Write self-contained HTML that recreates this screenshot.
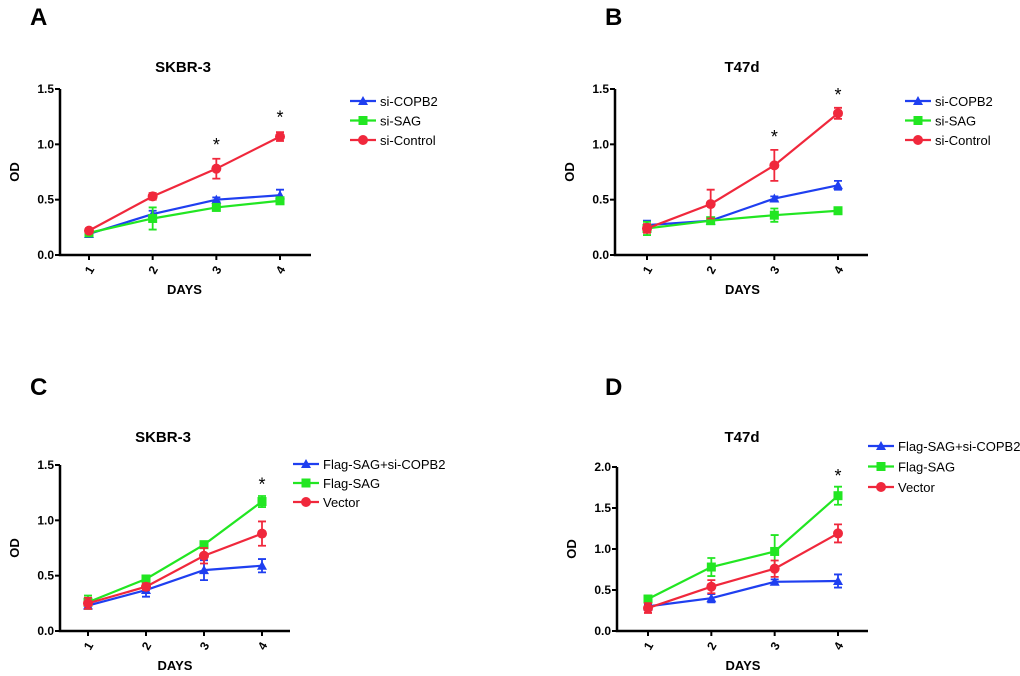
<!DOCTYPE html>
<html><head><meta charset="utf-8"><style>
html,body{margin:0;padding:0;background:#fff;}
svg{display:block;font-family:"Liberation Sans",Arial,sans-serif;}
</style></head><body>
<svg id="fig" width="1020" height="676"></svg>
<script>
const days = [1, 2, 3, 4];
const aCopb2 = [0.19, 0.37, 0.50, 0.54], aCopb2Err = [0.02, 0.03, 0.02, 0.05];
const aSag = [0.20, 0.33, 0.43, 0.49], aSagErr = [0.02, 0.10, 0.03, 0.02];
const aCtrl = [0.22, 0.53, 0.78, 1.07], aCtrlErr = [0.02, 0.03, 0.09, 0.04];
const bCopb2 = [0.27, 0.31, 0.51, 0.63], bCopb2Err = [0.04, 0.02, 0.02, 0.04];
const bSag = [0.24, 0.31, 0.36, 0.40], bSagErr = [0.06, 0.02, 0.06, 0.02];
const bCtrl = [0.24, 0.46, 0.81, 1.28], bCtrlErr = [0.04, 0.13, 0.14, 0.05];
const cCopb2 = [0.23, 0.37, 0.55, 0.59], cCopb2Err = [0.03, 0.06, 0.09, 0.06];
const cSag = [0.26, 0.47, 0.78, 1.17], cSagErr = [0.06, 0.02, 0.02, 0.05];
const cVec = [0.25, 0.40, 0.68, 0.88], cVecErr = [0.05, 0.03, 0.07, 0.11];
const dCopb2 = [0.30, 0.40, 0.60, 0.61], dCopb2Err = [0.02, 0.05, 0.03, 0.08];
const dSag = [0.39, 0.78, 0.97, 1.65], dSagErr = [0.04, 0.11, 0.20, 0.11];
const dVec = [0.28, 0.54, 0.76, 1.19], dVecErr = [0.06, 0.08, 0.10, 0.11];
const ticks15 = [0, 0.5, 1.0, 1.5];
const ticks20 = [0, 0.5, 1.0, 1.5, 2.0];
const legendA = ["si-COPB2", "si-SAG", "si-Control"];
const legendC = ["Flag-SAG+si-COPB2", "Flag-SAG", "Vector"];

const NS = "http://www.w3.org/2000/svg";
const svg = document.getElementById("fig");
const BLUE = "#1f3ff0", GREEN = "#22e622", RED = "#f0283c";
function mk(tag, attrs, parent) {
  const e = document.createElementNS(NS, tag);
  for (const k in attrs) e.setAttribute(k, attrs[k]);
  (parent || svg).appendChild(e);
  return e;
}
function txt(s, attrs, parent) { const t = mk("text", attrs, parent); t.textContent = s; return t; }

function marker(g, shape, x, y, col) {
  let m;
  if (shape === "tri") m = mk("polygon", {points: `${x},${y-5} ${x-5},${y+4} ${x+5},${y+4}`, fill: col}, g);
  else if (shape === "sq") m = mk("rect", {x: x-4.5, y: y-4.5, width: 9, height: 9, fill: col}, g);
  else m = mk("circle", {cx: x, cy: y, r: 5, fill: col}, g);
  return m;
}

function panel(p) {
  const g = mk("g", {});
  
  
  const yMax = p.ticks[p.ticks.length - 1];
  const ys = v => p.y0 - (v / yMax) * (p.y0 - p.yTop);
  const xs = d => p.x1 + (d - 1) * (p.x4 - p.x1) / 3;
  const L = txt(p.letter, {x: p.lx, y: p.ly, "font-size": 24, "font-weight": "bold"}, g);
  
  
  const T = txt(p.title, {x: p.tx, y: p.ty, "font-size": 15, "font-weight": "bold", "text-anchor": "middle"}, g);
  
  
  const ax = mk("path", {d: `M${p.ax},${p.yTop} V${p.y0} H${p.xEnd}`, stroke: "#000", "stroke-width": 2.5, fill: "none"}, g);
  
  
  p.ticks.forEach(t => {
    mk("line", {x1: p.ax-5, x2: p.ax, y1: ys(t), y2: ys(t), stroke: "#000", "stroke-width": 2}, g);
    const tl = txt(t.toFixed(1), {x: p.ax-6, y: ys(t)+4, "font-size": 12, "font-weight": "bold", "text-anchor": "end"}, g);
    
    
  });
  days.forEach(d => {
    mk("line", {x1: xs(d), x2: xs(d), y1: p.y0, y2: p.y0+5, stroke: "#000", "stroke-width": 2}, g);
    const tl = txt(String(d), {x: 0, y: 0, "font-size": 12, "font-weight": "bold", "text-anchor": "middle",
      transform: `translate(${xs(d)+4},${p.y0+17}) rotate(-60)`}, g);
    
    
  });
  const xt = txt("DAYS", {x: (p.x1+p.x4)/2, y: p.y0+39, "font-size": 13, "font-weight": "bold", "text-anchor": "middle"}, g);
  
  
  const yt = txt("OD", {x: 0, y: 0, "font-size": 13, "font-weight": "bold", "text-anchor": "middle",
    transform: `translate(${p.ax-41},${(p.y0+p.yTop)/2}) rotate(-90)`}, g);
  
  
  const cols = [BLUE, GREEN, RED], shapes = ["tri", "sq", "circ"];
  p.series.forEach((s, i) => {
    const sg = mk("g", {}, g);
    
    
    mk("polyline", {points: s.v.map((v, j) => `${xs(days[j])},${ys(v)}`).join(" "), fill: "none", stroke: cols[i], "stroke-width": 2.2}, sg);
    s.v.forEach((v, j) => {
      const x = xs(days[j]), lo = ys(v - s.e[j]), hi = ys(v + s.e[j]);
      mk("path", {d: `M${x},${lo} V${hi} M${x-4},${lo} H${x+4} M${x-4},${hi} H${x+4}`, stroke: cols[i], "stroke-width": 1.8, fill: "none"}, sg);
      const m = marker(sg, shapes[i], x, ys(v), cols[i]);
      
      
    });
  });
  p.stars.forEach(st => {
    const s = txt("*", {x: xs(st.d), y: ys(st.v), "font-size": 18, "text-anchor": "middle"}, g);
    
    
  });
  p.legend.forEach((name, i) => {
    const lg = mk("g", {}, g);
    
    
    const y = p.legY + i * p.legDy;
    mk("line", {x1: p.legX, x2: p.legX+26, y1: y, y2: y, stroke: cols[i], "stroke-width": 2.2}, lg);
    marker(lg, shapes[i], p.legX+13, y, cols[i]);
    txt(name, {x: p.legX+30, y: y+5, "font-size": 13}, lg);
  });
}

panel({id: "a", letter: "A", lx: 30, ly: 25, title: "SKBR-3", tx: 183, ty: 72, ax: 60, yTop: 89, y0: 255, xEnd: 311, x1: 89, x4: 280, ticks: ticks15,
  series: [{v: aCopb2, e: aCopb2Err}, {v: aSag, e: aSagErr}, {v: aCtrl, e: aCtrlErr}],
  stars: [{d: 3, v: 0.94}, {d: 4, v: 1.19}], legend: legendA, legX: 350, legY: 101, legDy: 19.5});
panel({id: "b", letter: "B", lx: 605, ly: 25, title: "T47d", tx: 742, ty: 72, ax: 615, yTop: 89, y0: 255, xEnd: 868, x1: 647, x4: 838, ticks: ticks15,
  series: [{v: bCopb2, e: bCopb2Err}, {v: bSag, e: bSagErr}, {v: bCtrl, e: bCtrlErr}],
  stars: [{d: 3, v: 1.01}, {d: 4, v: 1.39}], legend: legendA, legX: 905, legY: 101, legDy: 19.5});
panel({id: "c", letter: "C", lx: 30, ly: 395, title: "SKBR-3", tx: 163, ty: 442, ax: 60, yTop: 465, y0: 631, xEnd: 290, x1: 88, x4: 262, ticks: ticks15,
  series: [{v: cCopb2, e: cCopb2Err}, {v: cSag, e: cSagErr}, {v: cVec, e: cVecErr}],
  stars: [{d: 4, v: 1.27}], legend: legendC, legX: 293, legY: 464, legDy: 19});
panel({id: "d", letter: "D", lx: 605, ly: 395, title: "T47d", tx: 742, ty: 442, ax: 617, yTop: 467, y0: 631, xEnd: 868, x1: 648, x4: 838, ticks: ticks20,
  series: [{v: dCopb2, e: dCopb2Err}, {v: dSag, e: dSagErr}, {v: dVec, e: dVecErr}],
  stars: [{d: 4, v: 1.82}], legend: legendC, legX: 868, legY: 446, legDy: 20.5});
</script>
</body></html>
